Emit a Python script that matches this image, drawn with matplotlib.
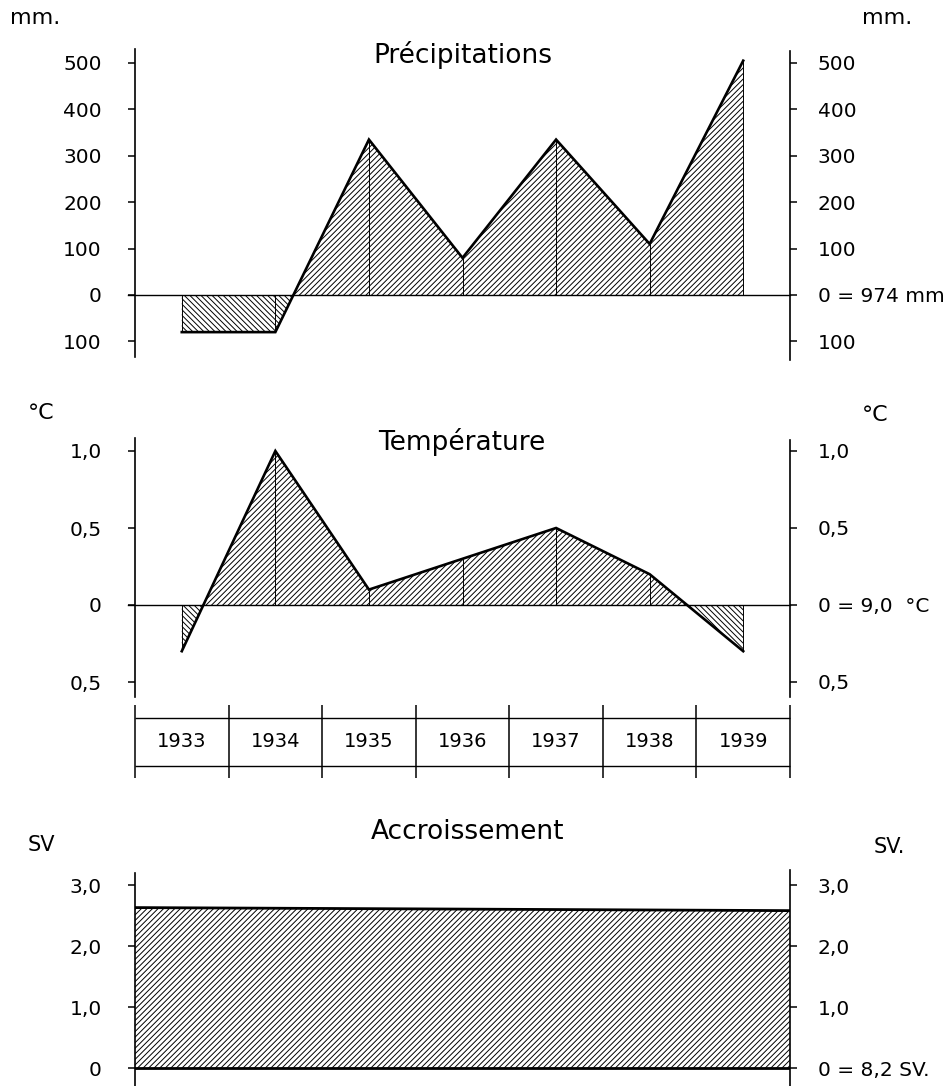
"""
Écarts annuels 1933-1939 : précipitations, température, accroissement.
Reproduction d'un graphique hachuré dessiné à la main.
"""
import matplotlib
matplotlib.use("Agg")
import matplotlib.pyplot as plt
import numpy as np

# ------------------------------------------------------------------
# données
# ------------------------------------------------------------------
YEARS = [1933, 1934, 1935, 1936, 1937, 1938, 1939]
PRECIP = [-80, -80, 335, 80, 335, 110, 505]      # mm, écart à 974 mm
TEMP = [-0.3, 1.0, 0.1, 0.3, 0.5, 0.2, -0.3]     # °C, écart à 9,0 °C
GROWTH = [2.63, 2.58]                            # sv, début / fin de période

PRECIP_TICKS = [-100, 0, 100, 200, 300, 400, 500]
PRECIP_LEFT = ["100", "0", "100", "200", "300", "400", "500"]
PRECIP_RIGHT = ["100", "0 = 974 mm", "100", "200", "300", "400", "500"]

TEMP_TICKS = [-0.5, 0.0, 0.5, 1.0]
TEMP_LEFT = ["0,5", "0", "0,5", "1,0"]
TEMP_RIGHT = ["0,5", "0 = 9,0  °C", "0,5", "1,0"]

SV_TICKS = [0, 1, 2, 3]
SV_LEFT = ["0", "1,0", "2,0", "3,0"]
SV_RIGHT = ["0 = 8,2 SV.", "1,0", "2,0", "3,0"]

XMIN, XMAX = YEARS[0] - 0.5, YEARS[-1] + 0.5

plt.rcParams["font.family"] = ["DejaVu Sans"]
plt.rcParams["hatch.linewidth"] = 0.7

HATCH_POS = "//////"
HATCH_NEG = "\\\\\\\\\\\\"

W, H = 950, 1086
fig = plt.figure(figsize=(W / 100, H / 100), dpi=100)
fig.patch.set_facecolor("white")


def px_axes(x0, x1, ytop, ybot):
    return fig.add_axes([x0 / W, 1 - ybot / H, (x1 - x0) / W, (ybot - ytop) / H])


def px_text(x, y, s, **kw):
    fig.text(x / W, 1 - y / H, s, **kw)


def setup_axes(ax, ylim, ticks, left_labels, right_labels, lbounds, rbounds):
    ax.set_xlim(XMIN, XMAX)
    ax.set_ylim(*ylim)
    for side in ("top", "bottom", "right"):
        ax.spines[side].set_visible(False)
    ax.spines["left"].set_bounds(*lbounds)
    ax.spines["left"].set_linewidth(1.2)
    ax.set_xticks([])
    ax.set_yticks(ticks)
    ax.set_yticklabels(left_labels, fontsize=14.5)
    ax.tick_params(axis="y", direction="out", length=5, width=1.1, pad=19)
    ax.patch.set_alpha(0)

    ax2 = ax.twinx()
    ax2.set_ylim(*ylim)
    for side in ("top", "bottom", "left"):
        ax2.spines[side].set_visible(False)
    ax2.spines["right"].set_bounds(*rbounds)
    ax2.spines["right"].set_linewidth(1.2)
    ax2.set_yticks(ticks)
    ax2.set_yticklabels(right_labels, fontsize=14.5)
    ax2.tick_params(axis="y", direction="out", length=5, width=1.1, pad=15)
    return ax2


def draw_series(ax, values):
    x = np.array(YEARS, dtype=float)
    v = np.array(values, dtype=float)
    ax.fill_between(x, v, 0, where=v >= 0, interpolate=True, facecolor="none",
                    edgecolor="black", hatch=HATCH_POS, linewidth=0)
    ax.fill_between(x, v, 0, where=v <= 0, interpolate=True, facecolor="none",
                    edgecolor="black", hatch=HATCH_NEG, linewidth=0)
    ax.vlines(x, 0, v, color="black", linewidth=0.7)
    ax.plot(x, v, color="black", linewidth=1.9, solid_joinstyle="miter")
    ax.plot([XMIN - 0.07, XMAX], [0, 0], color="black", linewidth=1.0,
            clip_on=False)


# ------------------------------------------------------------------
# Précipitations
# ------------------------------------------------------------------
ax_p = px_axes(135, 790, 39.8, 364.6)
setup_axes(ax_p, (-150, 550), PRECIP_TICKS, PRECIP_LEFT, PRECIP_RIGHT,
           (-133, 530), (-140, 525))
draw_series(ax_p, PRECIP)

px_text(463, 55, "Précipitations", fontsize=19, ha="center", va="center")
px_text(10, 18, "mm.", fontsize=16, ha="left", va="center")
px_text(862, 18, "mm.", fontsize=16, ha="left", va="center")

# ------------------------------------------------------------------
# Température
# ------------------------------------------------------------------
ax_t = px_axes(135, 790, 427.9, 705.1)
setup_axes(ax_t, (-0.65, 1.15), TEMP_TICKS, TEMP_LEFT, TEMP_RIGHT,
           (-0.597, 1.084), (-0.60, 1.07))
draw_series(ax_t, TEMP)

px_text(462, 442, "Température", fontsize=19, ha="center", va="center")
px_text(28, 413, "°C", fontsize=16, ha="left", va="center")
px_text(862, 415, "°C", fontsize=16, ha="left", va="center")

# ------------------------------------------------------------------
# tableau des années
# ------------------------------------------------------------------
ax_y = px_axes(135, 790, 700, 785)
ax_y.set_xlim(XMIN, XMAX)
ax_y.set_ylim(0, 1)
ax_y.axis("off")
ax_y.hlines([0.788, 0.224], XMIN, XMAX, color="black", linewidth=1.0,
            clip_on=False)
bounds = [y - 0.5 for y in YEARS] + [YEARS[-1] + 0.5]
ax_y.vlines(bounds, 0.082, 0.941, color="black", linewidth=1.1, clip_on=False)
for yr in YEARS:
    ax_y.text(yr, 0.506, str(yr), fontsize=14, ha="center", va="center")

# ------------------------------------------------------------------
# Accroissement
# ------------------------------------------------------------------
ax_a = px_axes(135, 790, 860, 1086)
setup_axes(ax_a, (-0.295, 3.41), SV_TICKS, SV_LEFT, SV_RIGHT,
           (-0.3, 3.2), (-0.3, 3.25))
xa = [XMIN, XMAX]
ax_a.fill_between(xa, GROWTH, 0, facecolor="none", edgecolor="black",
                  hatch=HATCH_POS, linewidth=0)
ax_a.plot(xa, GROWTH, color="black", linewidth=2.0)
ax_a.plot(xa, [0, 0], color="black", linewidth=2.0)

px_text(468, 832, "Accroissement", fontsize=19, ha="center", va="center")
px_text(28, 845, "SV", fontsize=15, ha="left", va="center")
px_text(874, 847, "SV.", fontsize=15, ha="left", va="center")

fig.savefig("out.png", dpi=100, facecolor="white")
